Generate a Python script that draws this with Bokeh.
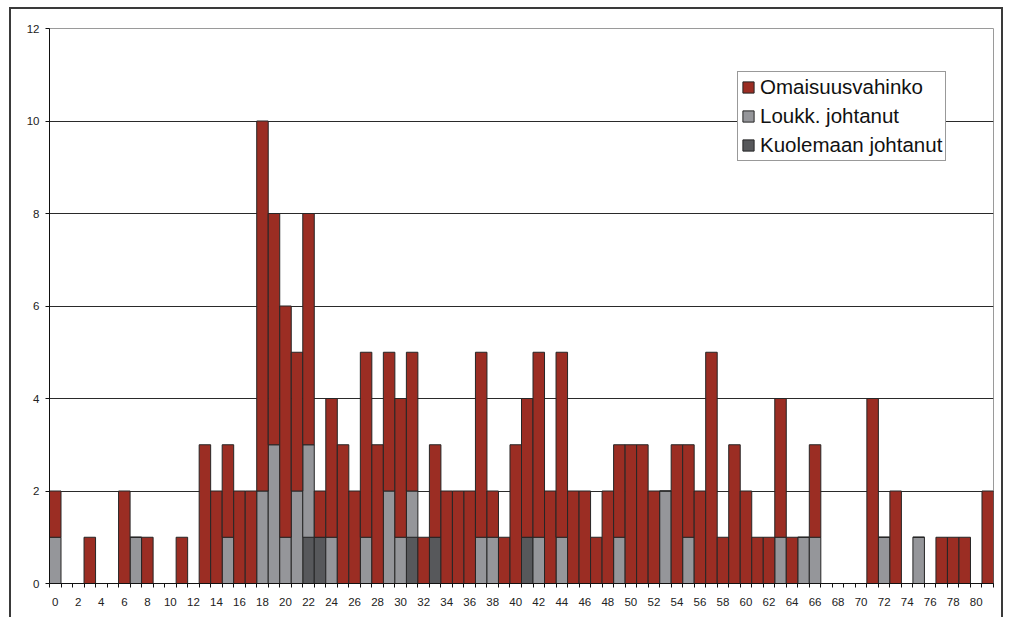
from bokeh.plotting import figure
from bokeh.models import ColumnDataSource, FixedTicker, Range1d, Legend, LegendItem
from bokeh.embed import file_html
from bokeh.resources import INLINE

# x categories 0..81
x = list(range(82))

omaisuus = [1, 0, 0, 1, 0, 0, 2, 0, 1, 0,
            0, 1, 0, 3, 2, 2, 2, 2, 8, 5,
            5, 3, 5, 1, 3, 3, 2, 4, 3, 3,
            3, 3, 1, 2, 2, 2, 2, 4, 1, 1,
            3, 3, 4, 2, 4, 2, 2, 1, 2, 2,
            3, 3, 2, 0, 3, 2, 2, 5, 1, 3,
            2, 1, 1, 3, 1, 0, 2, 0, 0, 0,
            0, 4, 0, 2, 0, 0, 0, 1, 1, 1,
            0, 2]

loukk = [1, 0, 0, 0, 0, 0, 0, 1, 0, 0,
         0, 0, 0, 0, 0, 1, 0, 0, 2, 3,
         1, 2, 2, 0, 1, 0, 0, 1, 0, 2,
         1, 1, 0, 0, 0, 0, 0, 1, 1, 0,
         0, 0, 1, 0, 1, 0, 0, 0, 0, 1,
         0, 0, 0, 2, 0, 1, 0, 0, 0, 0,
         0, 0, 0, 1, 0, 1, 1, 0, 0, 0,
         0, 0, 1, 0, 0, 1, 0, 0, 0, 0,
         0, 0]

kuolema = [0, 0, 0, 0, 0, 0, 0, 0, 0, 0,
           0, 0, 0, 0, 0, 0, 0, 0, 0, 0,
           0, 0, 1, 1, 0, 0, 0, 0, 0, 0,
           0, 1, 0, 1, 0, 0, 0, 0, 0, 0,
           0, 1, 0, 0, 0, 0, 0, 0, 0, 0,
           0, 0, 0, 0, 0, 0, 0, 0, 0, 0,
           0, 0, 0, 0, 0, 0, 0, 0, 0, 0,
           0, 0, 0, 0, 0, 0, 0, 0, 0, 0,
           0, 0]

series_names = ["Omaisuusvahinko", "Loukk. johtanut", "Kuolemaan johtanut"]
y_ticks = [0, 2, 4, 6, 8, 10, 12]
x_label_ticks = list(range(0, 82, 2))

source = ColumnDataSource(data=dict(x=x, kuolema=kuolema, loukk=loukk, omaisuus=omaisuus))

W, H = 994, 610
p = figure(width=W, height=H, output_backend="svg", toolbar_location=None,
           x_range=Range1d(-0.5, 81.5), y_range=Range1d(0, 12),
           min_border_left=38, min_border_right=12, min_border_top=19, min_border_bottom=36,
           styles={"border-top": "2px solid #3a3a3a", "border-left": "2px solid #3a3a3a",
                   "border-right": "2px solid #3a3a3a",
                   "margin-left": "9px", "margin-top": "7px"})

renderers = p.vbar_stack(["kuolema", "loukk", "omaisuus"], x="x", width=1.0, source=source,
                         color=["#57585b", "#95969a", "#9b2d23"],
                         line_color="#262626", line_width=1)

legend = Legend(items=[
    LegendItem(label=series_names[0], renderers=[renderers[2]]),
    LegendItem(label=series_names[1], renderers=[renderers[1]]),
    LegendItem(label=series_names[2], renderers=[renderers[0]]),
], location=(688, 422))
legend.label_text_font = "Liberation Sans"
legend.label_text_font_size = "20.5px"
legend.label_text_color = "#111111"
legend.glyph_width = 14
legend.glyph_height = 14
legend.label_height = 21
legend.label_standoff = 5
legend.spacing = 5
legend.padding = 3
legend.margin = 0
legend.border_line_color = "#333333"
legend.border_line_width = 1
legend.background_fill_alpha = 1
p.add_layout(legend)

p.outline_line_color = "#9a9a9a"
p.background_fill_color = "white"
p.border_fill_color = "white"

# grid
p.xgrid.visible = False
p.ygrid.ticker = FixedTicker(ticks=[2, 4, 6, 8, 10])
p.ygrid.grid_line_color = "#2a2a2a"
p.ygrid.grid_line_width = 1

# y axis
p.yaxis.ticker = FixedTicker(ticks=y_ticks)
p.yaxis.axis_line_color = "#111111"
p.yaxis.major_tick_line_color = "#111111"
p.yaxis.major_tick_out = 4
p.yaxis.major_tick_in = 0
p.yaxis.minor_tick_line_color = None
p.yaxis.major_label_standoff = 6
p.yaxis.major_label_text_font = "Liberation Sans"
p.yaxis.major_label_text_font_size = "11.5px"
p.yaxis.major_label_text_color = "#222222"

# x axis
p.xaxis.ticker = FixedTicker(ticks=x_label_ticks,
                             minor_ticks=[i - 0.5 for i in range(83)])
p.xaxis.axis_line_color = "#111111"
p.xaxis.major_tick_line_color = None
p.xaxis.major_tick_out = 4
p.xaxis.major_tick_in = 0
p.xaxis.minor_tick_line_color = "#111111"
p.xaxis.minor_tick_out = 4
p.xaxis.minor_tick_in = 0
p.xaxis.major_label_standoff = 10
p.xaxis.major_label_text_font = "Liberation Sans"
p.xaxis.major_label_text_font_size = "11.5px"
p.xaxis.major_label_text_color = "#222222"

open("out.html", "w").write(file_html(p, INLINE))
